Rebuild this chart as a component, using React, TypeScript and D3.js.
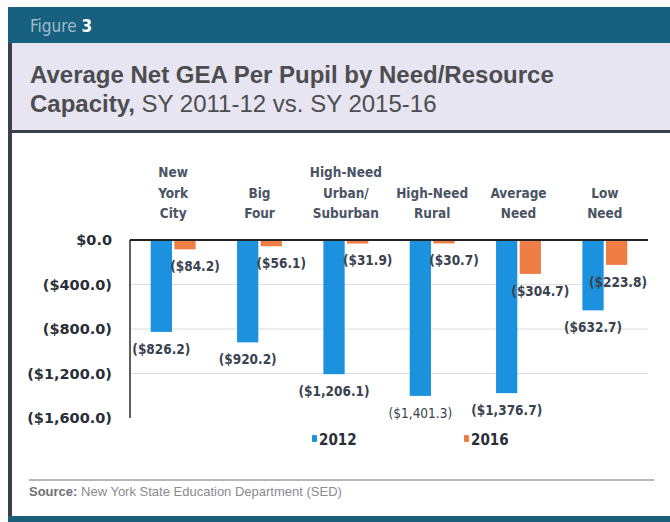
import React, { useRef, useEffect } from "react";
import * as d3 from "d3";

// categories, split into the lines used in the header labels
const categories = ["New York City", "Big Four", "High-Need Urban/Suburban", "High-Need Rural", "Average Need", "Low Need"];
const categoryLines = [["New", "York", "City"], ["Big", "Four"], ["High-Need", "Urban/", "Suburban"], ["High-Need", "Rural"], ["Average", "Need"], ["Low", "Need"]];
const seriesNames = ["2012", "2016"];
const values2012 = [-826.2, -920.2, -1206.1, -1401.3, -1376.7, -632.7];
const values2016 = [-84.2, -56.1, -31.9, -30.7, -304.7, -223.8];
const yTicks = [0, -400, -800, -1200, -1600];
const colors = ["#1c91dd", "#ef7e46"];

const fmt = (v: number) => (v === 0 ? "$0.0" : `(${d3.format("$,.1f")(Math.abs(v))})`);

const App = () => {
  const axisRef = useRef<SVGGElement>(null);

  // plot box
  const left = 130, right = 648, top = 240, bottom = 418;

  const x = d3.scaleBand<string>().domain(categories).range([left, right]).paddingInner(0.48).paddingOuter(0.24);
  const xInner = d3.scaleBand<string>().domain(seriesNames).range([0, x.bandwidth()]).paddingInner(0.1);
  const y = d3.scaleLinear().domain([-1600, 0]).range([bottom, top]);

  const series = [values2012, values2016];

  useEffect(() => {
    const g = d3.select(axisRef.current);
    g.selectAll("*").remove();
    g.call(d3.axisLeft(y).tickValues(yTicks).tickSize(0).tickPadding(18).tickFormat((d) => fmt(+d)));
    g.select(".domain").remove();
    g.selectAll("text")
      .attr("font-family", "'DejaVu Sans', sans-serif")
      .attr("font-weight", "bold")
      .attr("font-size", 14.5)
      .attr("fill", "#2a2e36");
  }, []);

  return (
    <svg width={670} height={522} style={{ position: "absolute", left: 0, top: 0 }}>
      <rect x={0} y={0} width={670} height={522} fill="#fdfdfd" />
      {/* frame */}
      <rect x={8} y={7} width={662} height={36} fill="#17607f" />
      <rect x={8} y={43} width={662} height={88} fill="#e7e5f2" />
      <rect x={8} y={130} width={662} height={3} fill="#3c3f4a" />
      <rect x={12} y={133} width={658} height={383} fill="#ffffff" />
      <rect x={8} y={43} width={4} height={474} fill="#3b3f4b" />
      <rect x={8} y={516} width={662} height={6} fill="#1c5e7a" />

      <text x={30} y={32} fontFamily="'DejaVu Sans Condensed', sans-serif" fontSize={17} fill="#9fbccb">
        Figure <tspan fill="#ffffff" fontWeight="bold">3</tspan>
      </text>
      <text x={30} y={83} fontFamily="'Liberation Sans', Arial, sans-serif" fontSize={24} fontWeight="bold" fill="#4d4d50">
        Average Net GEA Per Pupil by Need/Resource
      </text>
      <text x={30} y={112} fontFamily="'Liberation Sans', Arial, sans-serif" fontSize={24} fill="#4d4d50">
        <tspan fontWeight="bold">Capacity,</tspan> SY 2011-12 vs. SY 2015-16
      </text>

      {/* gridlines */}
      {yTicks.filter((t) => t !== 0 && t !== -1600).map((t) => (
        <line key={t} x1={left} x2={right} y1={y(t)} y2={y(t)} stroke="#dcdce2" strokeWidth={1} />
      ))}

      {/* category labels */}
      {categoryLines.map((lines, i) => (
        <text
          key={categories[i]}
          x={x(categories[i])! + x.bandwidth() / 2}
          textAnchor="middle"
          fontFamily="'DejaVu Sans Condensed', sans-serif"
          fontWeight="bold"
          fontSize={13.5}
          fill="#4a5464"
        >
          {lines.map((ln, j) => (
            <tspan key={j} x={x(categories[i])! + x.bandwidth() / 2} y={218 - (lines.length - 1 - j) * 20.5}>
              {ln}
            </tspan>
          ))}
        </text>
      ))}

      {/* bars */}
      {series.map((vals, s) =>
        vals.map((v, i) => (
          <rect
            key={`${s}-${i}`}
            x={x(categories[i])! + xInner(seriesNames[s])!}
            y={y(0)}
            width={xInner.bandwidth()}
            height={y(v) - y(0)}
            fill={colors[s]}
          />
        ))
      )}

      {/* axis lines */}
      <line x1={left} x2={left} y1={top} y2={bottom} stroke="#2a2a2a" strokeWidth={1.5} />
      <line x1={left} x2={right} y1={top} y2={top} stroke="#222" strokeWidth={2} />

      {/* value labels */}
      {series.map((vals, s) =>
        vals.map((v, i) => {
          const cx = x(categories[i])! + xInner(seriesNames[s])! + xInner.bandwidth() / 2;
          const lx = s === 0 ? cx : Math.min(cx + 10, right - 30);
          return (
            <text
              key={`l${s}-${i}`}
              x={lx}
              y={y(v) + 17}
              dy="0.35em"
              textAnchor="middle"
              fontFamily="'DejaVu Sans Condensed', sans-serif"
              fontWeight={s === 0 && i === 3 ? "normal" : "bold"}
              fontSize={13.5}
              fill="#3a4250"
            >
              {fmt(v)}
            </text>
          );
        })
      )}

      <g ref={axisRef} transform={`translate(${left},0)`} />

      {/* legend */}
      {seriesNames.map((name, s) => (
        <g key={name} transform={`translate(${312 + s * 152},0)`}>
          <rect x={0} y={435} width={5} height={7} rx={1} fill={colors[s]} />
          <text x={7} y={445} fontFamily="'DejaVu Sans Condensed', sans-serif" fontWeight="bold" fontSize={15} fill="#2a2e36">
            {name}
          </text>
        </g>
      ))}

      {/* source */}
      <line x1={29} x2={654} y1={480} y2={480} stroke="#9c9ca4" strokeWidth={1.5} />
      <text x={29} y={496} fontFamily="'Liberation Sans', Arial, sans-serif" fontSize={13} fill="#8a8a90">
        <tspan fontWeight="bold" fill="#6f6f75">Source:</tspan> New York State Education Department (SED)
      </text>
    </svg>
  );
};

export default App;
